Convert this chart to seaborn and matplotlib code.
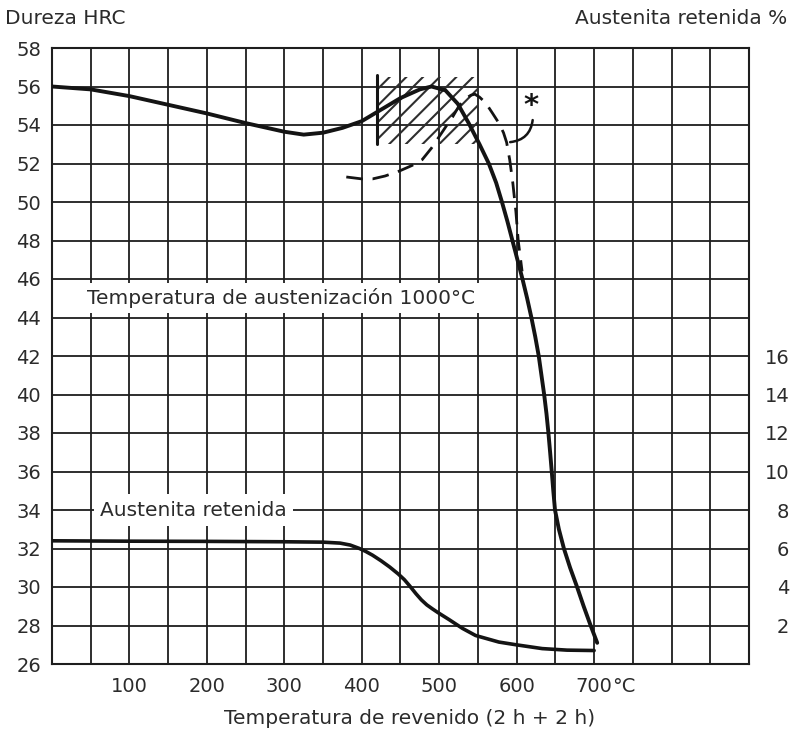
import matplotlib
matplotlib.use("Agg")
import matplotlib.pyplot as plt
import seaborn as sns
import pandas as pd
from matplotlib.patches import Rectangle

# Dureza tras revenido (curva continua), HRC
temp_dureza = [0, 50, 100, 150, 200, 250, 300, 325, 350, 375, 400, 425, 450, 475, 490,
               508, 524, 538, 552, 564, 573.5, 581, 588, 594.5, 601, 607.5, 613.5, 619, 624,
               628.5, 632, 635.5, 638.5, 641, 643.2, 645.3, 647.3, 649.5, 654.5, 661, 669,
               678, 686.5, 695.5, 704]
dureza_hrc = [56.0, 55.85, 55.5, 55.05, 54.6, 54.1, 53.65, 53.5, 53.6, 53.85, 54.2, 54.8, 55.4,
              55.85, 56.0, 55.8, 55.1, 54.1, 53.0, 52.0, 51.0, 50.0, 49.0, 48.0, 47.0, 46.0,
              45.0, 44.0, 43.0, 42.0, 41.0, 40.0, 39.0, 38.0, 37.0, 36.0, 35.0, 34.0, 33.0,
              32.0, 31.0, 30.0, 29.0, 28.0, 27.1]

# Curva discontinua (*)
temp_disc = [380, 400, 414, 430, 448, 465, 478, 490, 500, 510, 517, 525, 533, 541, 546, 552,
             560, 569, 577, 583, 587, 591, 595, 599, 602, 607]
hrc_disc = [51.3, 51.2, 51.2, 51.35, 51.6, 51.9, 52.2, 52.8, 53.4, 54.0, 54.4, 54.95, 55.35,
            55.55, 55.6, 55.45, 55.15, 54.6, 54.1, 53.6, 53.1, 52.2, 51.0, 49.5, 48.0, 46.4]

# Austenita retenida, %
temp_aust = [0, 100, 200, 300, 350, 372, 385, 397, 405, 414, 425, 436, 447, 455, 462, 470,
             477, 484, 491, 498, 513, 530, 547, 577, 599, 633, 665, 700]
aust_pct = [6.4, 6.38, 6.37, 6.35, 6.33, 6.28, 6.18, 6.0, 5.85, 5.65, 5.36, 5.04, 4.68, 4.38,
            4.05, 3.65, 3.33, 3.07, 2.87, 2.68, 2.3, 1.85, 1.48, 1.14, 1.0, 0.8, 0.72, 0.7]

# zona rayada
zona_temp = (420, 550)
zona_hrc = (53.0, 56.5)

x_ticks = list(range(0, 901, 50))
x_labels = {100: "100", 200: "200", 300: "300", 400: "400", 500: "500", 600: "600", 700: "700"}
y_ticks = list(range(26, 59, 2))
y2_ticks = list(range(2, 17, 2))

sns.set_theme(style="white")
plt.rcParams["font.family"] = ["DejaVu Sans"]
plt.rcParams["hatch.linewidth"] = 1.5
txt = "#2b2b2b"

fig = plt.figure(figsize=(7.94, 7.33), dpi=100)
ax = fig.add_axes([52 / 794, 69 / 733, 697 / 794, 616 / 733])

df_d = pd.DataFrame({"temp": temp_dureza, "hrc": dureza_hrc})
df_c = pd.DataFrame({"temp": temp_disc, "hrc": hrc_disc})
sns.lineplot(data=df_d, x="temp", y="hrc", ax=ax, color="#141414", lw=2.8, sort=False, zorder=4)
sns.lineplot(data=df_c, x="temp", y="hrc", ax=ax, color="#141414", lw=2.0, sort=False,
             dashes=False, zorder=4)
ax.lines[-1].set_dashes([6, 3.5])

ax.add_patch(Rectangle((zona_temp[0], zona_hrc[0]), zona_temp[1] - zona_temp[0],
                       zona_hrc[1] - zona_hrc[0], fill=False, hatch="//",
                       edgecolor="#2e2e2e", lw=0, zorder=3))
ax.plot([zona_temp[0], zona_temp[0]], [zona_hrc[0], zona_hrc[1] + 0.1], color="#141414",
        lw=2.2, zorder=4)

ax.set_xlim(0, 900)
ax.set_ylim(26, 58)
ax.set_xticks(x_ticks)
ax.set_xticklabels([x_labels.get(t, "") for t in x_ticks])
ax.set_yticks(y_ticks)
ax.set_yticklabels([str(t) for t in y_ticks])
ax.tick_params(axis="both", length=0, labelsize=14, colors=txt)
ax.tick_params(axis="x", pad=9)
ax.tick_params(axis="y", pad=8)
ax.grid(True, color="#1e1e1e", lw=1.3)
for s in ax.spines.values():
    s.set_color("#1e1e1e")
    s.set_linewidth(1.5)
ax.set_xlabel("")
ax.set_ylabel("")

ax.annotate("°C", xy=(700, 0), xycoords=("data", "axes fraction"), xytext=(13, -9),
            textcoords="offset points", ha="left", va="top", fontsize=14, color=txt)

ax.text(45, 45.0, "Temperatura de austenización 1000°C", fontsize=14.5, color=txt,
        va="center", ha="left", zorder=5,
        bbox=dict(boxstyle="square,pad=0.25", fc="white", ec="none"))
ax.text(62, 34.0, "Austenita retenida", fontsize=14.5, color=txt, va="center", ha="left",
        zorder=5, bbox=dict(boxstyle="square,pad=0.3", fc="white", ec="none"))

ax.text(619, 55.0, "*", fontsize=21, fontweight="bold", color="#141414", ha="center",
        va="center", zorder=5)
ax.annotate("", xy=(588, 53.1), xytext=(621, 54.4),
            arrowprops=dict(arrowstyle="-", color="#141414", lw=1.8,
                            connectionstyle="arc3,rad=-0.45"), zorder=5)

ax2 = ax.twinx()
df_a = pd.DataFrame({"temp": temp_aust, "pct": aust_pct})
sns.lineplot(data=df_a, x="temp", y="pct", ax=ax2, color="#141414", lw=2.6, sort=False)
ax2.set_ylim(0, 32)
ax2.set_yticks(y2_ticks)
ax2.set_yticklabels([str(t) for t in y2_ticks], ha="right")
ax2.tick_params(axis="y", length=0, labelsize=14, colors=txt, pad=29)
ax2.set_ylabel("")
ax2.grid(False)
for s in ax2.spines.values():
    s.set_visible(False)

fig.text(5 / 794, 1 - 18 / 733, "Dureza HRC", fontsize=14.5, color=txt, ha="left", va="center")
fig.text(787 / 794, 1 - 18 / 733, "Austenita retenida %", fontsize=14.5, color=txt,
         ha="right", va="center")
fig.text(410 / 794, 1 - 718 / 733, "Temperatura de revenido (2 h + 2 h)", fontsize=14.5,
         color=txt, ha="center", va="center")

fig.savefig("out.png", dpi=100, facecolor="white")
